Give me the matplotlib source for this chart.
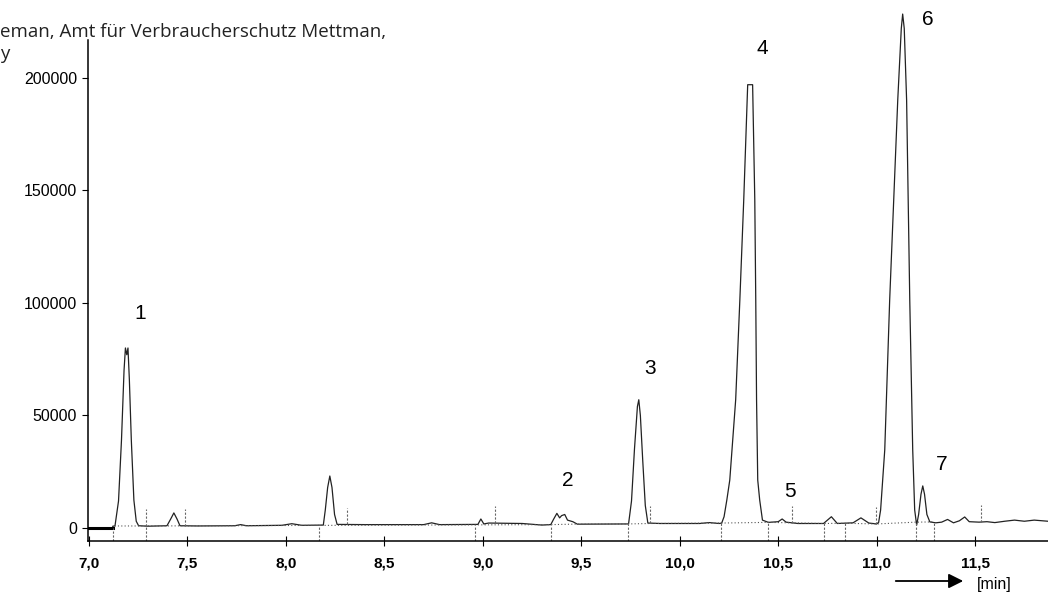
import numpy as np
import matplotlib
matplotlib.use('Agg')
from matplotlib import pyplot as plt

# chromatogram trace: retention time [min], signal
rt = [7.000, 7.120, 7.121, 7.132, 7.150, 7.165, 7.178, 7.185, 7.192, 7.198,
      7.205, 7.215, 7.228, 7.240, 7.252, 7.300, 7.396, 7.415, 7.431, 7.447,
      7.462, 7.550, 7.740, 7.770, 7.800, 7.980, 8.030, 8.080, 8.190, 8.200,
      8.212, 8.223, 8.234, 8.247, 8.260, 8.400, 8.700, 8.740, 8.780, 8.975,
      8.990, 9.005, 9.030, 9.200, 9.300, 9.345, 9.360, 9.376, 9.390, 9.400,
      9.416, 9.430, 9.457, 9.480, 9.740, 9.755, 9.770, 9.785, 9.792, 9.800,
      9.812, 9.825, 9.838, 9.900, 10.100, 10.150, 10.200, 10.213, 10.225, 10.239,
      10.254, 10.284, 10.305, 10.325, 10.345, 10.370, 10.381, 10.386, 10.390, 10.396,
      10.406, 10.420, 10.450, 10.500, 10.520, 10.540, 10.600, 10.730, 10.770, 10.800,
      10.880, 10.920, 10.960, 11.000, 11.010, 11.020, 11.041, 11.066, 11.107, 11.125,
      11.132, 11.140, 11.152, 11.168, 11.183, 11.193, 11.203, 11.213, 11.225, 11.234,
      11.243, 11.255, 11.270, 11.300, 11.330, 11.360, 11.390, 11.420, 11.447, 11.470,
      11.520, 11.560, 11.600, 11.650, 11.700, 11.750, 11.800, 11.870]
signal = [0, 0, 800, 900, 12000, 39000, 70000, 80000, 77000, 80000,
          66000, 39000, 12400, 3000, 1000, 800, 1000, 4000, 6700, 4000,
          1000, 900, 1000, 1500, 1000, 1200, 1900, 1200, 1300, 8000,
          18000, 23100, 18000, 6000, 1600, 1500, 1500, 2300, 1500, 1600,
          4000, 1800, 2200, 2000, 1300, 1500, 4000, 6500, 4500, 5500,
          6000, 3500, 2800, 1700, 1800, 12000, 35000, 54000, 57000, 50000,
          30000, 10000, 2200, 2000, 2000, 2400, 2000, 2200, 5000, 12400,
          21300, 57000, 101000, 146000, 197000, 197000, 146000, 101000, 57000, 21300,
          12400, 3500, 2500, 2800, 4000, 2600, 2000, 2000, 5000, 2000,
          2300, 4500, 2200, 1800, 2500, 8000, 34700, 101300, 190200, 222000,
          228400, 222000, 190200, 101300, 34700, 8000, 1300, 6000, 15000, 18700,
          15000, 6000, 2700, 2300, 2600, 3800, 2300, 3200, 4900, 2800,
          2600, 2800, 2400, 3000, 3500, 3000, 3500, 3000]

# fitted (dotted) baseline under the integrated peaks
base_t = [7.13, 7.29, 9.345, 9.46, 9.735, 9.85, 10.21, 10.45, 10.73, 10.84, 11.00, 11.20, 11.29]
base_y = [900, 900, 1500, 1700, 1800, 2000, 2200, 2500, 2000, 2100, 1800, 2600, 2700]

# integration markers
cut_marks = [7.12, 7.29, 8.17, 8.96, 9.345, 9.735, 10.21, 10.45, 10.73, 10.84, 11.20, 11.29]
end_marks = [7.29, 7.49, 8.31, 9.06, 9.85, 10.57, 10.995, 11.53]

# peak numbers
peak_ids = ['1', '2', '3', '4', '5', '6', '7']
peak_lx = [7.26, 9.43, 9.85, 10.42, 10.56, 11.26, 11.33]
peak_ly = [95500, 21000, 71000, 213000, 16000, 226000, 28000]

yticks = [0, 50000, 100000, 150000, 200000]
xticks = [7.0, 7.5, 8.0, 8.5, 9.0, 9.5, 10.0, 10.5, 11.0, 11.5]
xlabels = ['7,0', '7,5', '8,0', '8,5', '9,0', '9,5', '10,0', '10,5', '11,0', '11,5']

fig = plt.figure(figsize=(10.48, 5.96), dpi=100)
ax = fig.add_axes([88 / 1048, 1 - 541 / 596, 1 - 88 / 1048, (541 - 10) / 596])
ax.set_xlim(6.995, 11.87)
ax.set_ylim(-5780, 230200)

ax.plot(rt, signal, color='#222222', lw=0.9)
ax.plot(rt[:2], signal[:2], color='black', lw=2.2)
ax.plot(base_t, base_y, color='#555555', lw=0.8, ls=(0, (1, 2)))

# marker lines
for t in cut_marks:
    y0 = np.interp(t, base_t, base_y) if t > 7.125 else 0
    ax.plot([t, t], [-5780, y0], color='#666666', lw=0.8, ls=(0, (2, 1.5)))
for t in end_marks:
    y0 = np.interp(t, rt, signal)
    ax.plot([t, t], [y0, y0 + 7500], color='#666666', lw=0.8, ls=(0, (2, 1.5)))

for lab, x, y in zip(peak_ids, peak_lx, peak_ly):
    ax.text(x, y, lab, fontsize=15, ha='center', va='center', family='Liberation Sans')

for s in ['top', 'right']:
    ax.spines[s].set_visible(False)
ax.spines['left'].set_bounds(-5780, 217000)
ax.spines['left'].set_linewidth(1.1)
ax.spines['bottom'].set_linewidth(1.1)

ax.set_yticks(yticks)
ax.set_yticklabels([str(v) for v in yticks], family='Liberation Sans', fontsize=11.5)
ax.tick_params(axis='y', direction='out', length=4, width=0.8, pad=4)
ax.set_xticks(xticks)
ax.set_xticklabels(xlabels, family='Liberation Sans', fontsize=11, fontweight='bold')
ax.tick_params(axis='x', direction='inout', length=7, width=0.8, pad=8)

# header fragment from the scanned page
fig.text(0.0, 1 - 32 / 596, 'eman, Amt für Verbraucherschutz Mettman,', family='Open Sans',
         fontsize=13.5, va='center', ha='left', color='#222222')
fig.text(0.0, 1 - 54 / 596, 'y', family='Open Sans', fontsize=13.5, va='center', ha='left',
         color='#222222')

# time arrow
fig.add_artist(matplotlib.patches.FancyArrowPatch((893 / 1048, 15 / 596), (966 / 1048, 15 / 596),
                                                  transform=fig.transFigure, arrowstyle='-|>',
                                                  mutation_scale=22, lw=1.3, color='black'))
fig.text(977 / 1048, 11 / 596, '[min]', family='Liberation Sans', fontsize=11.5, va='center')

fig.savefig('out.png', dpi=100)
